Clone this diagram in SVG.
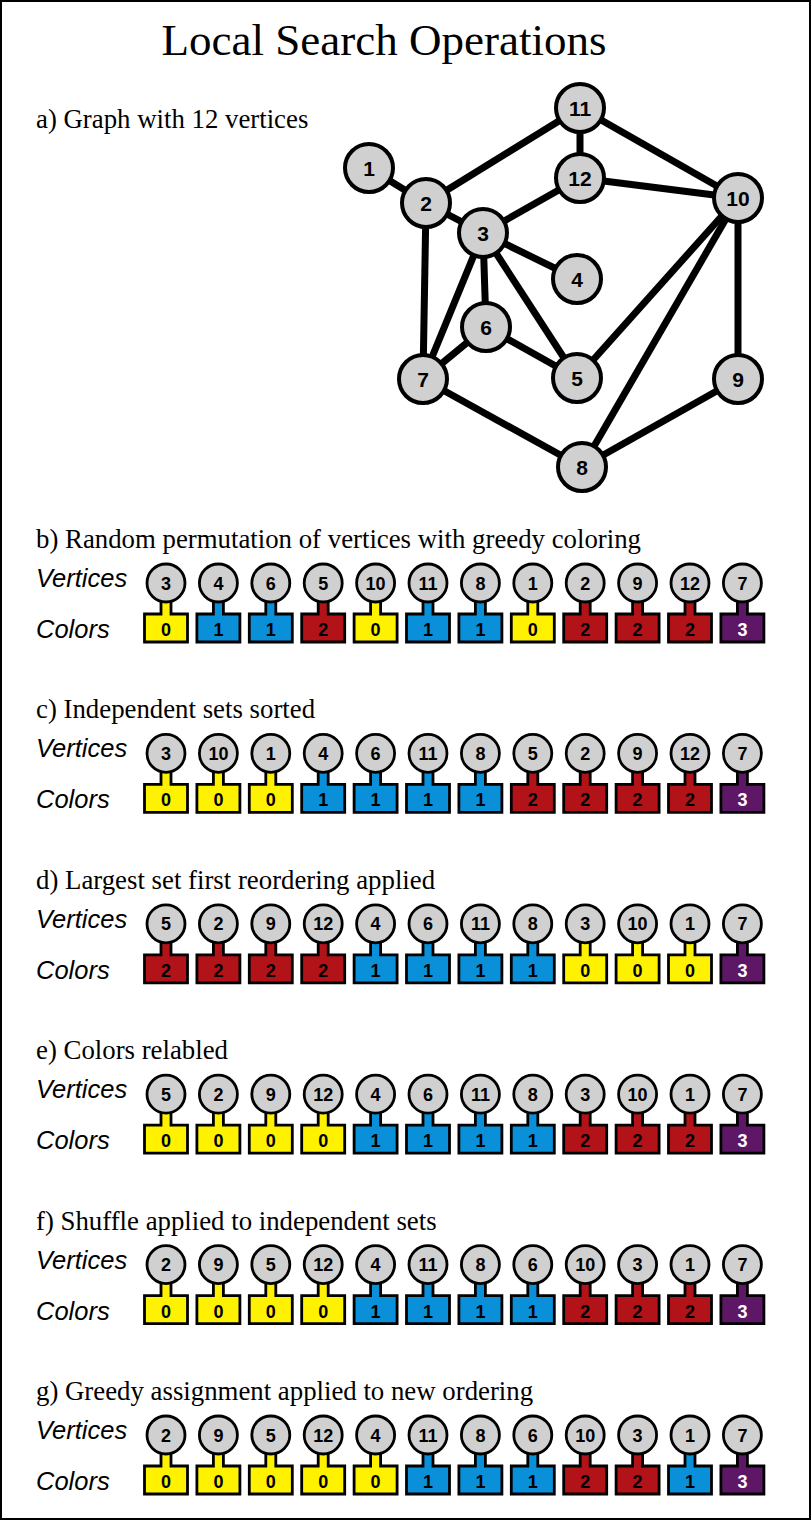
<svg xmlns="http://www.w3.org/2000/svg" width="812" height="1522" viewBox="0 0 812 1522">
<style>
.title{font-family:"Liberation Serif",serif;font-size:45px;fill:#000}
.sub{font-family:"Liberation Serif",serif;font-size:26.8px;fill:#000}
.lab{font-family:"Liberation Sans",Arial,sans-serif;font-size:25.5px;font-style:italic;fill:#000}
.edge{stroke:#000;stroke-width:7;stroke-linecap:butt}
.gn circle{fill:#d0d0d0;stroke:#000;stroke-width:4}
.gn text{font-family:"Liberation Sans",Arial,sans-serif;font-size:21px;font-weight:bold;text-anchor:middle;fill:#000}
.ch circle{fill:#d0d0d0;stroke:#000;stroke-width:2.8}
.ch path{stroke:#000;stroke-width:2.8;stroke-linejoin:miter}
.ch text{font-family:"Liberation Sans",Arial,sans-serif;font-size:18px;font-weight:bold;text-anchor:middle;fill:#000}
.c0 path{fill:#fff200}
.c1 path{fill:#0a8fd9}
.c2 path{fill:#b21318}
.c3 path{fill:#5e1666}
.c3 text.n{fill:#fff}
</style>
<rect x="1" y="1" width="809" height="1518" fill="#fff" stroke="#000" stroke-width="2"/>
<text class="title" x="384" y="55" text-anchor="middle">Local Search Operations</text>
<text class="sub" x="36" y="128">a) Graph with 12 vertices</text>
<g id="edges">
<line class="edge" x1="369" y1="168" x2="426" y2="203"/>
<line class="edge" x1="426" y1="203" x2="580" y2="108"/>
<line class="edge" x1="426" y1="203" x2="483" y2="233"/>
<line class="edge" x1="426" y1="203" x2="423" y2="379"/>
<line class="edge" x1="483" y1="233" x2="580" y2="178"/>
<line class="edge" x1="483" y1="233" x2="577" y2="279"/>
<line class="edge" x1="483" y1="233" x2="486" y2="327"/>
<line class="edge" x1="483" y1="233" x2="423" y2="379"/>
<line class="edge" x1="483" y1="233" x2="577" y2="378"/>
<line class="edge" x1="580" y1="108" x2="580" y2="178"/>
<line class="edge" x1="580" y1="108" x2="738" y2="198"/>
<line class="edge" x1="580" y1="178" x2="738" y2="198"/>
<line class="edge" x1="738" y1="198" x2="577" y2="378"/>
<line class="edge" x1="738" y1="198" x2="582" y2="467"/>
<line class="edge" x1="738" y1="198" x2="738" y2="379"/>
<line class="edge" x1="486" y1="327" x2="423" y2="379"/>
<line class="edge" x1="486" y1="327" x2="577" y2="378"/>
<line class="edge" x1="423" y1="379" x2="582" y2="467"/>
<line class="edge" x1="582" y1="467" x2="738" y2="379"/>
</g>
<g id="n1" class="gn"><circle cx="369" cy="168" r="24"/><text x="369" y="175.5">1</text></g>
<g id="n2" class="gn"><circle cx="426" cy="203" r="24"/><text x="426" y="210.5">2</text></g>
<g id="n3" class="gn"><circle cx="483" cy="233" r="24"/><text x="483" y="240.5">3</text></g>
<g id="n4" class="gn"><circle cx="577" cy="279" r="24"/><text x="577" y="286.5">4</text></g>
<g id="n5" class="gn"><circle cx="577" cy="378" r="24"/><text x="577" y="385.5">5</text></g>
<g id="n6" class="gn"><circle cx="486" cy="327" r="24"/><text x="486" y="334.5">6</text></g>
<g id="n7" class="gn"><circle cx="423" cy="379" r="24"/><text x="423" y="386.5">7</text></g>
<g id="n8" class="gn"><circle cx="582" cy="467" r="24"/><text x="582" y="474.5">8</text></g>
<g id="n9" class="gn"><circle cx="738" cy="379" r="24"/><text x="738" y="386.5">9</text></g>
<g id="n10" class="gn"><circle cx="738" cy="198" r="24"/><text x="738" y="205.5">10</text></g>
<g id="n11" class="gn"><circle cx="580" cy="108" r="24"/><text x="580" y="115.5">11</text></g>
<g id="n12" class="gn"><circle cx="580" cy="178" r="24"/><text x="580" y="185.5">12</text></g>

<!-- row b -->
<text class="sub" x="36" y="548">b) Random permutation of vertices with greedy coloring</text>
<text class="lab" x="36" y="587">Vertices</text>
<text class="lab" x="36" y="638">Colors</text>
<g id="rb">
<g id="b1" class="ch c0" transform="translate(166,583)"><path d="M-21.5,31H-5V14H5V31H21.5V59H-21.5Z"/><circle r="19"/><text y="6.5">3</text><text class="n" y="53">0</text></g>
<g id="b2" class="ch c1" transform="translate(218.4,583)"><path d="M-21.5,31H-5V14H5V31H21.5V59H-21.5Z"/><circle r="19"/><text y="6.5">4</text><text class="n" y="53">1</text></g>
<g id="b3" class="ch c1" transform="translate(270.8,583)"><path d="M-21.5,31H-5V14H5V31H21.5V59H-21.5Z"/><circle r="19"/><text y="6.5">6</text><text class="n" y="53">1</text></g>
<g id="b4" class="ch c2" transform="translate(323.2,583)"><path d="M-21.5,31H-5V14H5V31H21.5V59H-21.5Z"/><circle r="19"/><text y="6.5">5</text><text class="n" y="53">2</text></g>
<g id="b5" class="ch c0" transform="translate(375.6,583)"><path d="M-21.5,31H-5V14H5V31H21.5V59H-21.5Z"/><circle r="19"/><text y="6.5">10</text><text class="n" y="53">0</text></g>
<g id="b6" class="ch c1" transform="translate(428,583)"><path d="M-21.5,31H-5V14H5V31H21.5V59H-21.5Z"/><circle r="19"/><text y="6.5">11</text><text class="n" y="53">1</text></g>
<g id="b7" class="ch c1" transform="translate(480.4,583)"><path d="M-21.5,31H-5V14H5V31H21.5V59H-21.5Z"/><circle r="19"/><text y="6.5">8</text><text class="n" y="53">1</text></g>
<g id="b8" class="ch c0" transform="translate(532.8,583)"><path d="M-21.5,31H-5V14H5V31H21.5V59H-21.5Z"/><circle r="19"/><text y="6.5">1</text><text class="n" y="53">0</text></g>
<g id="b9" class="ch c2" transform="translate(585.2,583)"><path d="M-21.5,31H-5V14H5V31H21.5V59H-21.5Z"/><circle r="19"/><text y="6.5">2</text><text class="n" y="53">2</text></g>
<g id="b10" class="ch c2" transform="translate(637.6,583)"><path d="M-21.5,31H-5V14H5V31H21.5V59H-21.5Z"/><circle r="19"/><text y="6.5">9</text><text class="n" y="53">2</text></g>
<g id="b11" class="ch c2" transform="translate(690,583)"><path d="M-21.5,31H-5V14H5V31H21.5V59H-21.5Z"/><circle r="19"/><text y="6.5">12</text><text class="n" y="53">2</text></g>
<g id="b12" class="ch c3" transform="translate(742.4,583)"><path d="M-21.5,31H-5V14H5V31H21.5V59H-21.5Z"/><circle r="19"/><text y="6.5">7</text><text class="n" y="53">3</text></g>
</g>

<!-- row c -->
<text class="sub" x="36" y="718.4">c) Independent sets sorted</text>
<text class="lab" x="36" y="757.4">Vertices</text>
<text class="lab" x="36" y="808.4">Colors</text>
<g id="rc">
<g id="c1" class="ch c0" transform="translate(166,753.4)"><path d="M-21.5,31H-5V14H5V31H21.5V59H-21.5Z"/><circle r="19"/><text y="6.5">3</text><text class="n" y="53">0</text></g>
<g id="c2" class="ch c0" transform="translate(218.4,753.4)"><path d="M-21.5,31H-5V14H5V31H21.5V59H-21.5Z"/><circle r="19"/><text y="6.5">10</text><text class="n" y="53">0</text></g>
<g id="c3" class="ch c0" transform="translate(270.8,753.4)"><path d="M-21.5,31H-5V14H5V31H21.5V59H-21.5Z"/><circle r="19"/><text y="6.5">1</text><text class="n" y="53">0</text></g>
<g id="c4" class="ch c1" transform="translate(323.2,753.4)"><path d="M-21.5,31H-5V14H5V31H21.5V59H-21.5Z"/><circle r="19"/><text y="6.5">4</text><text class="n" y="53">1</text></g>
<g id="c5" class="ch c1" transform="translate(375.6,753.4)"><path d="M-21.5,31H-5V14H5V31H21.5V59H-21.5Z"/><circle r="19"/><text y="6.5">6</text><text class="n" y="53">1</text></g>
<g id="c6" class="ch c1" transform="translate(428,753.4)"><path d="M-21.5,31H-5V14H5V31H21.5V59H-21.5Z"/><circle r="19"/><text y="6.5">11</text><text class="n" y="53">1</text></g>
<g id="c7" class="ch c1" transform="translate(480.4,753.4)"><path d="M-21.5,31H-5V14H5V31H21.5V59H-21.5Z"/><circle r="19"/><text y="6.5">8</text><text class="n" y="53">1</text></g>
<g id="c8" class="ch c2" transform="translate(532.8,753.4)"><path d="M-21.5,31H-5V14H5V31H21.5V59H-21.5Z"/><circle r="19"/><text y="6.5">5</text><text class="n" y="53">2</text></g>
<g id="c9" class="ch c2" transform="translate(585.2,753.4)"><path d="M-21.5,31H-5V14H5V31H21.5V59H-21.5Z"/><circle r="19"/><text y="6.5">2</text><text class="n" y="53">2</text></g>
<g id="c10" class="ch c2" transform="translate(637.6,753.4)"><path d="M-21.5,31H-5V14H5V31H21.5V59H-21.5Z"/><circle r="19"/><text y="6.5">9</text><text class="n" y="53">2</text></g>
<g id="c11" class="ch c2" transform="translate(690,753.4)"><path d="M-21.5,31H-5V14H5V31H21.5V59H-21.5Z"/><circle r="19"/><text y="6.5">12</text><text class="n" y="53">2</text></g>
<g id="c12" class="ch c3" transform="translate(742.4,753.4)"><path d="M-21.5,31H-5V14H5V31H21.5V59H-21.5Z"/><circle r="19"/><text y="6.5">7</text><text class="n" y="53">3</text></g>
</g>

<!-- row d -->
<text class="sub" x="36" y="888.8">d) Largest set first reordering applied</text>
<text class="lab" x="36" y="927.8">Vertices</text>
<text class="lab" x="36" y="978.8">Colors</text>
<g id="rd">
<g id="d1" class="ch c2" transform="translate(166,923.8)"><path d="M-21.5,31H-5V14H5V31H21.5V59H-21.5Z"/><circle r="19"/><text y="6.5">5</text><text class="n" y="53">2</text></g>
<g id="d2" class="ch c2" transform="translate(218.4,923.8)"><path d="M-21.5,31H-5V14H5V31H21.5V59H-21.5Z"/><circle r="19"/><text y="6.5">2</text><text class="n" y="53">2</text></g>
<g id="d3" class="ch c2" transform="translate(270.8,923.8)"><path d="M-21.5,31H-5V14H5V31H21.5V59H-21.5Z"/><circle r="19"/><text y="6.5">9</text><text class="n" y="53">2</text></g>
<g id="d4" class="ch c2" transform="translate(323.2,923.8)"><path d="M-21.5,31H-5V14H5V31H21.5V59H-21.5Z"/><circle r="19"/><text y="6.5">12</text><text class="n" y="53">2</text></g>
<g id="d5" class="ch c1" transform="translate(375.6,923.8)"><path d="M-21.5,31H-5V14H5V31H21.5V59H-21.5Z"/><circle r="19"/><text y="6.5">4</text><text class="n" y="53">1</text></g>
<g id="d6" class="ch c1" transform="translate(428,923.8)"><path d="M-21.5,31H-5V14H5V31H21.5V59H-21.5Z"/><circle r="19"/><text y="6.5">6</text><text class="n" y="53">1</text></g>
<g id="d7" class="ch c1" transform="translate(480.4,923.8)"><path d="M-21.5,31H-5V14H5V31H21.5V59H-21.5Z"/><circle r="19"/><text y="6.5">11</text><text class="n" y="53">1</text></g>
<g id="d8" class="ch c1" transform="translate(532.8,923.8)"><path d="M-21.5,31H-5V14H5V31H21.5V59H-21.5Z"/><circle r="19"/><text y="6.5">8</text><text class="n" y="53">1</text></g>
<g id="d9" class="ch c0" transform="translate(585.2,923.8)"><path d="M-21.5,31H-5V14H5V31H21.5V59H-21.5Z"/><circle r="19"/><text y="6.5">3</text><text class="n" y="53">0</text></g>
<g id="d10" class="ch c0" transform="translate(637.6,923.8)"><path d="M-21.5,31H-5V14H5V31H21.5V59H-21.5Z"/><circle r="19"/><text y="6.5">10</text><text class="n" y="53">0</text></g>
<g id="d11" class="ch c0" transform="translate(690,923.8)"><path d="M-21.5,31H-5V14H5V31H21.5V59H-21.5Z"/><circle r="19"/><text y="6.5">1</text><text class="n" y="53">0</text></g>
<g id="d12" class="ch c3" transform="translate(742.4,923.8)"><path d="M-21.5,31H-5V14H5V31H21.5V59H-21.5Z"/><circle r="19"/><text y="6.5">7</text><text class="n" y="53">3</text></g>
</g>

<!-- row e -->
<text class="sub" x="36" y="1059.2">e) Colors relabled</text>
<text class="lab" x="36" y="1098.2">Vertices</text>
<text class="lab" x="36" y="1149.2">Colors</text>
<g id="re">
<g id="e1" class="ch c0" transform="translate(166,1094.2)"><path d="M-21.5,31H-5V14H5V31H21.5V59H-21.5Z"/><circle r="19"/><text y="6.5">5</text><text class="n" y="53">0</text></g>
<g id="e2" class="ch c0" transform="translate(218.4,1094.2)"><path d="M-21.5,31H-5V14H5V31H21.5V59H-21.5Z"/><circle r="19"/><text y="6.5">2</text><text class="n" y="53">0</text></g>
<g id="e3" class="ch c0" transform="translate(270.8,1094.2)"><path d="M-21.5,31H-5V14H5V31H21.5V59H-21.5Z"/><circle r="19"/><text y="6.5">9</text><text class="n" y="53">0</text></g>
<g id="e4" class="ch c0" transform="translate(323.2,1094.2)"><path d="M-21.5,31H-5V14H5V31H21.5V59H-21.5Z"/><circle r="19"/><text y="6.5">12</text><text class="n" y="53">0</text></g>
<g id="e5" class="ch c1" transform="translate(375.6,1094.2)"><path d="M-21.5,31H-5V14H5V31H21.5V59H-21.5Z"/><circle r="19"/><text y="6.5">4</text><text class="n" y="53">1</text></g>
<g id="e6" class="ch c1" transform="translate(428,1094.2)"><path d="M-21.5,31H-5V14H5V31H21.5V59H-21.5Z"/><circle r="19"/><text y="6.5">6</text><text class="n" y="53">1</text></g>
<g id="e7" class="ch c1" transform="translate(480.4,1094.2)"><path d="M-21.5,31H-5V14H5V31H21.5V59H-21.5Z"/><circle r="19"/><text y="6.5">11</text><text class="n" y="53">1</text></g>
<g id="e8" class="ch c1" transform="translate(532.8,1094.2)"><path d="M-21.5,31H-5V14H5V31H21.5V59H-21.5Z"/><circle r="19"/><text y="6.5">8</text><text class="n" y="53">1</text></g>
<g id="e9" class="ch c2" transform="translate(585.2,1094.2)"><path d="M-21.5,31H-5V14H5V31H21.5V59H-21.5Z"/><circle r="19"/><text y="6.5">3</text><text class="n" y="53">2</text></g>
<g id="e10" class="ch c2" transform="translate(637.6,1094.2)"><path d="M-21.5,31H-5V14H5V31H21.5V59H-21.5Z"/><circle r="19"/><text y="6.5">10</text><text class="n" y="53">2</text></g>
<g id="e11" class="ch c2" transform="translate(690,1094.2)"><path d="M-21.5,31H-5V14H5V31H21.5V59H-21.5Z"/><circle r="19"/><text y="6.5">1</text><text class="n" y="53">2</text></g>
<g id="e12" class="ch c3" transform="translate(742.4,1094.2)"><path d="M-21.5,31H-5V14H5V31H21.5V59H-21.5Z"/><circle r="19"/><text y="6.5">7</text><text class="n" y="53">3</text></g>
</g>

<!-- row f -->
<text class="sub" x="36" y="1229.6">f) Shuffle applied to independent sets</text>
<text class="lab" x="36" y="1268.6">Vertices</text>
<text class="lab" x="36" y="1319.6">Colors</text>
<g id="rf">
<g id="f1" class="ch c0" transform="translate(166,1264.6)"><path d="M-21.5,31H-5V14H5V31H21.5V59H-21.5Z"/><circle r="19"/><text y="6.5">2</text><text class="n" y="53">0</text></g>
<g id="f2" class="ch c0" transform="translate(218.4,1264.6)"><path d="M-21.5,31H-5V14H5V31H21.5V59H-21.5Z"/><circle r="19"/><text y="6.5">9</text><text class="n" y="53">0</text></g>
<g id="f3" class="ch c0" transform="translate(270.8,1264.6)"><path d="M-21.5,31H-5V14H5V31H21.5V59H-21.5Z"/><circle r="19"/><text y="6.5">5</text><text class="n" y="53">0</text></g>
<g id="f4" class="ch c0" transform="translate(323.2,1264.6)"><path d="M-21.5,31H-5V14H5V31H21.5V59H-21.5Z"/><circle r="19"/><text y="6.5">12</text><text class="n" y="53">0</text></g>
<g id="f5" class="ch c1" transform="translate(375.6,1264.6)"><path d="M-21.5,31H-5V14H5V31H21.5V59H-21.5Z"/><circle r="19"/><text y="6.5">4</text><text class="n" y="53">1</text></g>
<g id="f6" class="ch c1" transform="translate(428,1264.6)"><path d="M-21.5,31H-5V14H5V31H21.5V59H-21.5Z"/><circle r="19"/><text y="6.5">11</text><text class="n" y="53">1</text></g>
<g id="f7" class="ch c1" transform="translate(480.4,1264.6)"><path d="M-21.5,31H-5V14H5V31H21.5V59H-21.5Z"/><circle r="19"/><text y="6.5">8</text><text class="n" y="53">1</text></g>
<g id="f8" class="ch c1" transform="translate(532.8,1264.6)"><path d="M-21.5,31H-5V14H5V31H21.5V59H-21.5Z"/><circle r="19"/><text y="6.5">6</text><text class="n" y="53">1</text></g>
<g id="f9" class="ch c2" transform="translate(585.2,1264.6)"><path d="M-21.5,31H-5V14H5V31H21.5V59H-21.5Z"/><circle r="19"/><text y="6.5">10</text><text class="n" y="53">2</text></g>
<g id="f10" class="ch c2" transform="translate(637.6,1264.6)"><path d="M-21.5,31H-5V14H5V31H21.5V59H-21.5Z"/><circle r="19"/><text y="6.5">3</text><text class="n" y="53">2</text></g>
<g id="f11" class="ch c2" transform="translate(690,1264.6)"><path d="M-21.5,31H-5V14H5V31H21.5V59H-21.5Z"/><circle r="19"/><text y="6.5">1</text><text class="n" y="53">2</text></g>
<g id="f12" class="ch c3" transform="translate(742.4,1264.6)"><path d="M-21.5,31H-5V14H5V31H21.5V59H-21.5Z"/><circle r="19"/><text y="6.5">7</text><text class="n" y="53">3</text></g>
</g>

<!-- row g -->
<text class="sub" x="36" y="1400">g) Greedy assignment applied to new ordering</text>
<text class="lab" x="36" y="1439">Vertices</text>
<text class="lab" x="36" y="1490">Colors</text>
<g id="rg">
<g id="g1" class="ch c0" transform="translate(166,1435)"><path d="M-21.5,31H-5V14H5V31H21.5V59H-21.5Z"/><circle r="19"/><text y="6.5">2</text><text class="n" y="53">0</text></g>
<g id="g2" class="ch c0" transform="translate(218.4,1435)"><path d="M-21.5,31H-5V14H5V31H21.5V59H-21.5Z"/><circle r="19"/><text y="6.5">9</text><text class="n" y="53">0</text></g>
<g id="g3" class="ch c0" transform="translate(270.8,1435)"><path d="M-21.5,31H-5V14H5V31H21.5V59H-21.5Z"/><circle r="19"/><text y="6.5">5</text><text class="n" y="53">0</text></g>
<g id="g4" class="ch c0" transform="translate(323.2,1435)"><path d="M-21.5,31H-5V14H5V31H21.5V59H-21.5Z"/><circle r="19"/><text y="6.5">12</text><text class="n" y="53">0</text></g>
<g id="g5" class="ch c0" transform="translate(375.6,1435)"><path d="M-21.5,31H-5V14H5V31H21.5V59H-21.5Z"/><circle r="19"/><text y="6.5">4</text><text class="n" y="53">0</text></g>
<g id="g6" class="ch c1" transform="translate(428,1435)"><path d="M-21.5,31H-5V14H5V31H21.5V59H-21.5Z"/><circle r="19"/><text y="6.5">11</text><text class="n" y="53">1</text></g>
<g id="g7" class="ch c1" transform="translate(480.4,1435)"><path d="M-21.5,31H-5V14H5V31H21.5V59H-21.5Z"/><circle r="19"/><text y="6.5">8</text><text class="n" y="53">1</text></g>
<g id="g8" class="ch c1" transform="translate(532.8,1435)"><path d="M-21.5,31H-5V14H5V31H21.5V59H-21.5Z"/><circle r="19"/><text y="6.5">6</text><text class="n" y="53">1</text></g>
<g id="g9" class="ch c2" transform="translate(585.2,1435)"><path d="M-21.5,31H-5V14H5V31H21.5V59H-21.5Z"/><circle r="19"/><text y="6.5">10</text><text class="n" y="53">2</text></g>
<g id="g10" class="ch c2" transform="translate(637.6,1435)"><path d="M-21.5,31H-5V14H5V31H21.5V59H-21.5Z"/><circle r="19"/><text y="6.5">3</text><text class="n" y="53">2</text></g>
<g id="g11" class="ch c1" transform="translate(690,1435)"><path d="M-21.5,31H-5V14H5V31H21.5V59H-21.5Z"/><circle r="19"/><text y="6.5">1</text><text class="n" y="53">1</text></g>
<g id="g12" class="ch c3" transform="translate(742.4,1435)"><path d="M-21.5,31H-5V14H5V31H21.5V59H-21.5Z"/><circle r="19"/><text y="6.5">7</text><text class="n" y="53">3</text></g>
</g>
</svg>
